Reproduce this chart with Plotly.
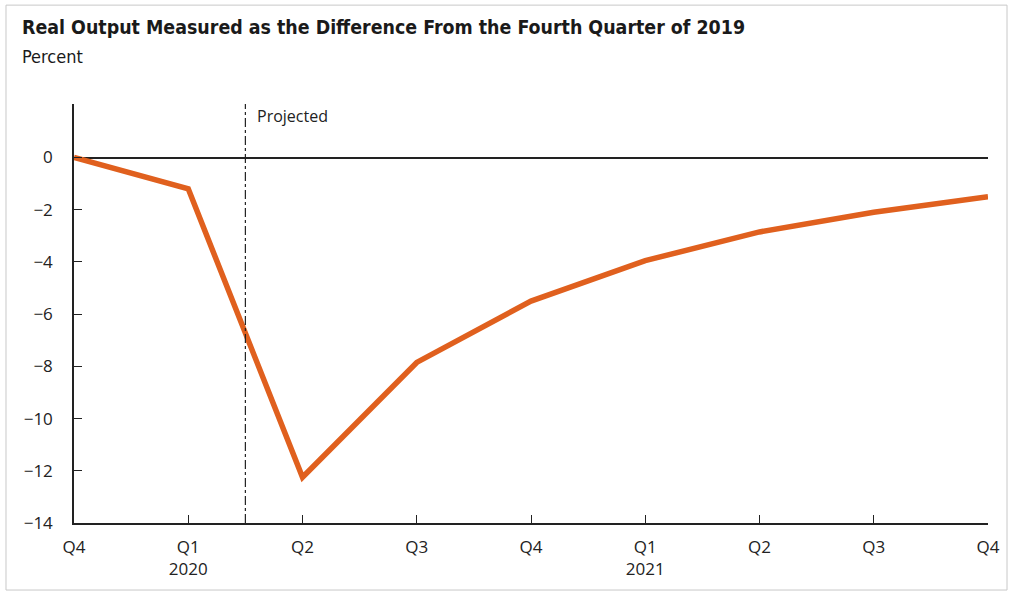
import plotly.graph_objects as go

quarters = ["Q4", "Q1<br>2020", "Q2", "Q3", "Q4", "Q1<br>2021", "Q2", "Q3", "Q4"]
x_pos = [0, 1, 2, 3, 4, 5, 6, 7, 8]
output_diff = [0.0, -1.2, -12.25, -7.85, -5.5, -3.95, -2.85, -2.1, -1.5]
y_ticks = [0, -2, -4, -6, -8, -10, -12, -14]
projected_start = 1.5

TITLE_FONT = "DejaVu Sans Condensed, Roboto Condensed, Roboto"
TICK_FONT = "Open Sans"

fig = go.Figure()
fig.add_trace(go.Scatter(
    x=x_pos, y=output_diff, mode="lines",
    line=dict(color="#E0601E", width=5.5),
    showlegend=False, hoverinfo="skip",
))

fig.add_shape(type="line", xref="x", yref="y", x0=projected_start, x1=projected_start,
              y0=-14, y1=2.05, line=dict(color="#222222", width=1.2, dash="dashdot"))
fig.add_annotation(x=projected_start, y=2.05, xref="x", yref="y", text="Projected",
                   showarrow=False, xanchor="left", yanchor="top", xshift=10, yshift=1,
                   font=dict(family=TICK_FONT, size=16, color="#222222"))

# title and subtitle
fig.add_annotation(x=-54 / 914, y=(523 - 27) / 419, xref="paper", yref="paper",
                   text="<b>Real Output Measured as the Difference From the Fourth Quarter of 2019</b>",
                   showarrow=False, xanchor="left", yanchor="middle",
                   font=dict(family=TITLE_FONT, size=19.4, color="#1a1a1a"))
fig.add_annotation(x=-54 / 914, y=(523 - 56) / 419, xref="paper", yref="paper",
                   text="Percent", showarrow=False, xanchor="left", yanchor="middle",
                   font=dict(family=TITLE_FONT, size=18, color="#1a1a1a"))

# scan frame
fig.add_shape(type="rect", xref="paper", yref="paper", x0=-0.0744, x1=1.0208,
              y0=-0.16, y1=1.236, line=dict(color="#c8c8c8", width=1), layer="below")

fig.update_layout(
    width=1011, height=594,
    margin=dict(l=74, r=23, t=104, b=71),
    paper_bgcolor="white", plot_bgcolor="white",
    xaxis=dict(
        range=[0, 8], tickvals=x_pos, ticktext=quarters,
        showgrid=False, zeroline=False, showline=True, linecolor="#222222", linewidth=1.5,
        ticks="inside", ticklen=8, tickcolor="#222222", tickwidth=1.2,
        tickfont=dict(family=TICK_FONT, size=17, color="#222222"),
        ticklabelstandoff=8,
        fixedrange=True,
    ),
    yaxis=dict(
        range=[-14, 2.05], tickvals=y_ticks, ticktext=[str(v).replace("-", "\u2212") for v in y_ticks],
        showgrid=False, zeroline=True, zerolinecolor="#222222", zerolinewidth=1.5,
        showline=True, linecolor="#222222", linewidth=1.5,
        ticks="inside", ticklen=8, tickcolor="#222222", tickwidth=1.2,
        tickfont=dict(family=TICK_FONT, size=17, color="#222222"),
        ticklabelstandoff=16,
        fixedrange=True,
    ),
)

fig.write_html("out.html")
